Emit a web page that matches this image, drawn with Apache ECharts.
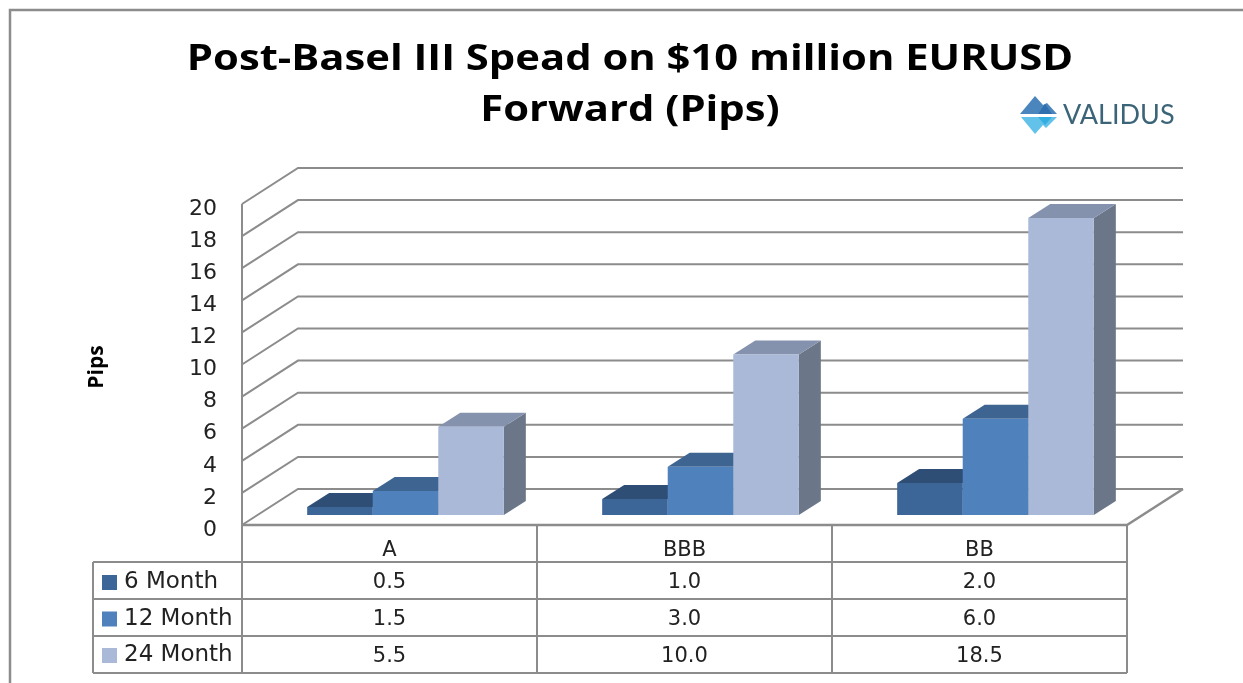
<!DOCTYPE html>
<html>
<head>
<meta charset="utf-8">
<style>
  html, body { margin: 0; padding: 0; background: #fff; }
  #chart { width: 1243px; height: 683px; }
</style>
<script src="https://cdn.jsdelivr.net/npm/echarts@6/dist/echarts.min.js"></script>
</head>
<body>
<div id="chart"></div>
<script>
const categories = ['A', 'BBB', 'BB'];
const seriesNames = ['6 Month', '12 Month', '24 Month'];
const sixMonth = [0.5, 1.0, 2.0];
const twelveMonth = [1.5, 3.0, 6.0];
const twentyFourMonth = [5.5, 10.0, 18.5];
const yTicks = [0, 2, 4, 6, 8, 10, 12, 14, 16, 18, 20];
const titleLines = ['Post-Basel III Spead on $10 million EURUSD', 'Forward (Pips)'];

const frontColors = ['#3c6598', '#4f81bd', '#aab9d7'];
const topColors = ['#2f4e76', '#3e6491', '#8592ae'];
const sideColors = ['#2a4566', '#35567d', '#6b7689'];

const FONT = '"DejaVu Sans", sans-serif';
const TITLE_FONT = '"Open Sans", sans-serif';
const LINE = '#8c8c8c';
const TEXT = '#222';
const GRID = { left: 242, right: 116, top: 204, bottom: 158 };
const WALL = [56, -36]; // floor depth
const PLANE = [16, -10]; // where the bar fronts sit on the floor
const DEPTH = [22, -14]; // bar depth
const ROW_Y = [562, 599, 636, 673]; // table rows under the category row

function wallItem(params, api) {
  const left = api.coord(['A', api.value(0)]);
  const band = api.size([1, 0])[0];
  const right = left[0] + band * (categories.length - 0.5);
  const x0 = left[0] - band / 2;
  const y = left[1];
  const children = [{
    type: 'polyline',
    shape: { points: [[x0, y], [x0 + WALL[0], y + WALL[1]], [right + WALL[0], y + WALL[1]]] },
    style: { fill: null, stroke: LINE, lineWidth: 2 }
  }];
  if (api.value(0) === 0) {
    children.push({
      type: 'polyline',
      shape: { points: [[right + WALL[0], y + WALL[1]], [right, y], [x0, y]] },
      style: { fill: null, stroke: LINE, lineWidth: 2.5 }
    });
  }
  return { type: 'group', children };
}

function barItem(index) {
  return (params, api) => {
    const base = api.coord([api.value(0), 0]);
    const top = api.coord([api.value(0), api.value(1)]);
    const band = api.size([1, 0])[0];
    const w = band / 4.5;
    const x = base[0] - 1.5 * w + index * w + PLANE[0];
    const yb = base[1] + PLANE[1];
    const yt = top[1] + PLANE[1];
    return {
      type: 'group',
      children: [
        {
          type: 'polygon',
          shape: { points: [[x + w, yt], [x + w + DEPTH[0], yt + DEPTH[1]], [x + w + DEPTH[0], yb + DEPTH[1]], [x + w, yb]] },
          style: { fill: sideColors[index] }
        },
        {
          type: 'polygon',
          shape: { points: [[x, yt], [x + DEPTH[0], yt + DEPTH[1]], [x + w + DEPTH[0], yt + DEPTH[1]], [x + w, yt]] },
          style: { fill: topColors[index] }
        },
        {
          type: 'rect',
          shape: { x, y: yt, width: w, height: yb - yt },
          style: { fill: frontColors[index] }
        },
        {
          type: 'text',
          x: base[0],
          y: (ROW_Y[index] + ROW_Y[index + 1]) / 2 + 2,
          style: {
            text: api.value(1).toFixed(1),
            font: '21px ' + FONT,
            fill: TEXT,
            align: 'center',
            verticalAlign: 'middle'
          }
        }
      ]
    };
  };
}

function barData(values) {
  return values.map((v, i) => [i, v]);
}

function tableLines() {
  const x0 = GRID.left;
  const x1 = 1243 - GRID.right;
  const xs = [93, x0, 537, 832, x1];
  const lines = [];
  xs.forEach((x, i) => {
    lines.push([x, i === 0 ? ROW_Y[0] : (i === 1 ? GRID.top : 683 - GRID.bottom), x, ROW_Y[3]]);
  });
  ROW_Y.forEach(y => lines.push([xs[0], y, x1, y]));
  return lines.map(l => ({
    type: 'line',
    shape: { x1: l[0], y1: l[1], x2: l[2], y2: l[3] },
    style: { stroke: LINE, lineWidth: 2 },
    z: 1
  }));
}

const chart = echarts.init(document.getElementById('chart'));
chart.setOption({
  animation: false,
  backgroundColor: '#fff',
  grid: GRID,
  legend: {
    data: seriesNames,
    orient: 'vertical',
    left: 102,
    top: 571,
    itemWidth: 15,
    itemHeight: 15,
    itemGap: 13.5,
    icon: 'rect',
    padding: 0,
    selectedMode: false,
    textStyle: { fontFamily: FONT, fontSize: 23, color: TEXT, padding: [0, 0, 0, 2] }
  },
  xAxis: {
    type: 'category',
    data: categories,
    axisLine: { show: false },
    axisTick: { show: false },
    axisLabel: { fontFamily: FONT, fontSize: 21, color: TEXT, margin: 15 }
  },
  yAxis: {
    type: 'value',
    min: 0,
    max: 20,
    interval: 2,
    name: 'Pips',
    nameLocation: 'middle',
    nameRotate: 90,
    nameGap: 134,
    nameTextStyle: {
      fontFamily: '"Liberation Sans Narrow", "Open Sans", sans-serif',
      fontSize: 21,
      fontWeight: 'bold',
      color: '#000',
      padding: [0, 5, 0, 0]
    },
    axisLine: { show: false },
    axisTick: { show: false },
    splitLine: { show: false },
    axisLabel: { fontFamily: FONT, fontSize: 22, color: TEXT, margin: 25, verticalAlign: 'top', lineHeight: 10 }
  },
  series: [
    {
      name: 'walls',
      type: 'custom',
      renderItem: wallItem,
      data: yTicks.map(t => [t]),
      encode: { y: 0 },
      silent: true,
      z: 1
    },
    ...[sixMonth, twelveMonth, twentyFourMonth].map((values, i) => ({
      name: seriesNames[i],
      type: 'custom',
      renderItem: barItem(i),
      itemStyle: { color: frontColors[i] },
      data: barData(values),
      encode: { x: 0, y: 1 },
      z: 2 + i
    }))
  ],
  graphic: [
    {
      type: 'rect',
      shape: { x: 10, y: 10, width: 1400, height: 900 },
      style: { fill: null, stroke: LINE, lineWidth: 2.5 },
      silent: true
    },
    ...titleLines.map((line, i) => ({
      type: 'text',
      x: 630,
      y: 60 + i * 51,
      scaleX: 1.16,
      style: {
        text: line,
        font: 'bold 36px ' + TITLE_FONT,
        fill: '#000',
        align: 'center',
        verticalAlign: 'middle'
      }
    })),
    ...tableLines(),
    { type: 'polygon', shape: { points: [[1020, 114], [1035, 96], [1043, 105], [1047, 103], [1057, 114]] }, style: { fill: '#4a86bd' } },
    { type: 'polygon', shape: { points: [[1038, 114], [1045, 104], [1052, 114]] }, style: { fill: '#2f6fae' } },
    { type: 'polygon', shape: { points: [[1021, 117], [1057, 117], [1046, 128], [1043, 125], [1035, 134]] }, style: { fill: '#62c2ea' } },
    { type: 'polygon', shape: { points: [[1038, 117], [1052, 117], [1045, 125]] }, style: { fill: '#33aee0' } },
    {
      type: 'text',
      x: 1063,
      y: 115,
      style: { text: 'VALIDUS', font: '27px Lato, sans-serif', fill: '#3b6478', verticalAlign: 'middle' }
    }
  ]
});
</script>
</body>
</html>
